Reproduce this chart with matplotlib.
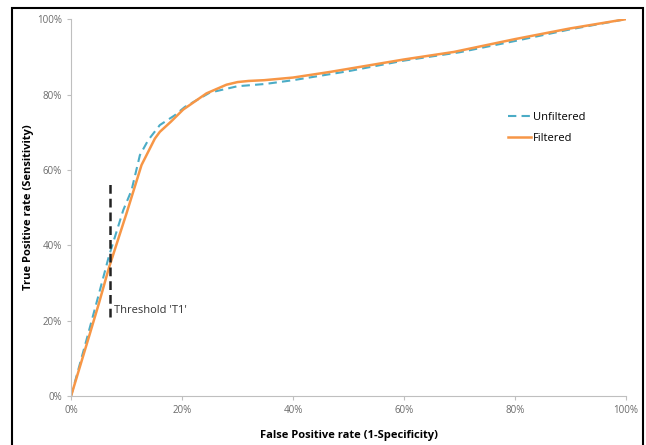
import matplotlib
matplotlib.use("Agg")
import matplotlib.pyplot as plt
from matplotlib.ticker import PercentFormatter
from matplotlib.patches import Rectangle

# ROC points (percent)
fpr_unfilt = [0, 2.8, 5, 6.8, 9.4, 10.9, 12.4, 13.9, 16, 18.7, 20.5, 25, 30, 35, 40, 50,
              60, 70, 80, 90, 100]
tpr_unfilt = [0, 15, 27, 37, 49.3, 54.6, 63.9, 67.9, 71.9, 74.5, 76.7, 80.5, 82.2, 82.8,
              83.8, 86.2, 89, 91.2, 94.2, 97.3, 100]

fpr_filt = [0, 3.4, 5, 6.8, 10, 12.7, 15.1, 16, 18, 20.2, 24.4, 28, 30, 32, 34.8, 40,
            46.7, 60, 69, 80, 89.8, 100]
tpr_filt = [0, 16.6, 24.5, 33.9, 48.5, 61.3, 68.3, 70.1, 72.8, 76, 80.3, 82.6, 83.3, 83.6,
            83.8, 84.5, 86, 89.3, 91.3, 94.7, 97.5, 100]

threshold_x = 7
threshold_span = [21, 57]

fig = plt.figure(figsize=(6.46, 4.45), dpi=100)
ax = fig.add_axes([0.110, 0.110, 0.859, 0.847])

ax.plot(fpr_unfilt, tpr_unfilt, color="#4BACC6", lw=1.5, ls=(0, (4, 2.5)), label="Unfiltered")
ax.plot(fpr_filt, tpr_filt, color="#F79646", lw=1.8, label="Filtered")
ax.plot([threshold_x, threshold_x], threshold_span, color="#222222", lw=1.8, ls=(0, (3.5, 2)))
ax.text(threshold_x + 0.7, 22.8, "Threshold 'T1'", fontsize=8, color="#333333",
        family="Open Sans", va="center")

ax.set_xlim(0, 100)
ax.set_ylim(0, 100)
ax.set_xticks(range(0, 101, 20))
ax.set_yticks(range(0, 101, 20))
ax.xaxis.set_major_formatter(PercentFormatter(decimals=0))
ax.yaxis.set_major_formatter(PercentFormatter(decimals=0))
ax.tick_params(labelsize=7, colors="#6b6b6b", length=3, color="#BFBFBF")
for lab in ax.get_xticklabels() + ax.get_yticklabels():
    lab.set_family("Open Sans")

for s in ["top", "right"]:
    ax.spines[s].set_visible(False)
for s in ["left", "bottom"]:
    ax.spines[s].set_color("#BFBFBF")

ax.set_xlabel("False Positive rate (1-Specificity)", fontsize=8, fontweight="bold",
              family="Open Sans", labelpad=10)
ax.set_ylabel("True Positive rate (Sensitivity)", fontsize=8, fontweight="bold",
              family="Open Sans", labelpad=2)

leg = ax.legend(loc="upper left", bbox_to_anchor=(0.77, 0.78), frameon=False,
                prop={"family": "Open Sans", "size": 8}, handlelength=2.0,
                handletextpad=0.2, labelspacing=0.9)

# outer frame around the figure
fig.patches.append(Rectangle((12 / 646, -0.05), 631 / 646, 1.05 - 8 / 445,
                             transform=fig.transFigure, fill=False,
                             edgecolor="black", lw=1.5))

fig.savefig("out.png", dpi=100)
